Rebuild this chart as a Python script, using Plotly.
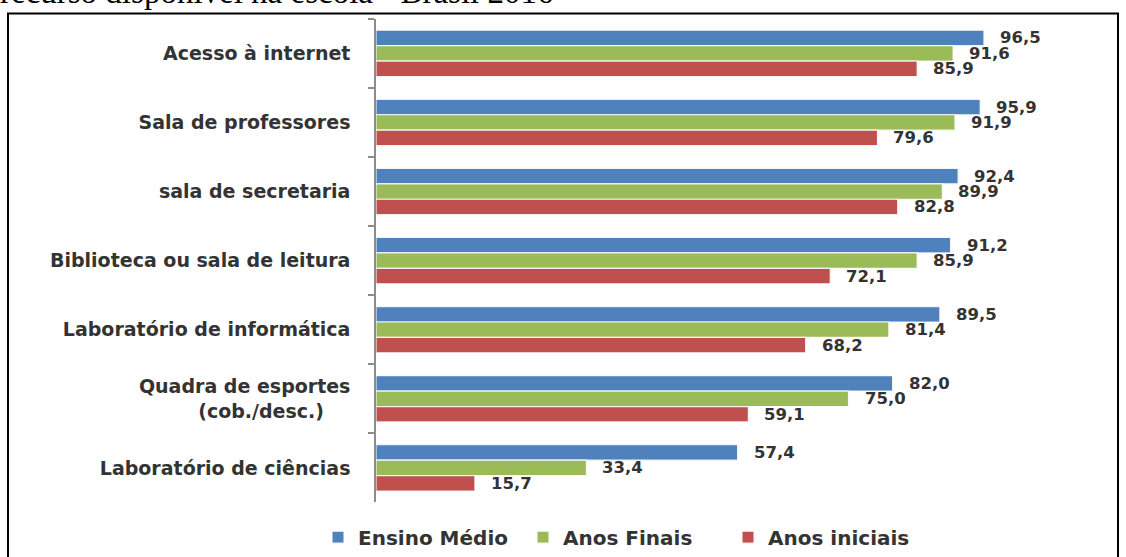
import plotly.graph_objects as go

categories = [
    "Acesso à internet",
    "Sala de professores",
    "sala de secretaria",
    "Biblioteca ou sala de leitura",
    "Laboratório de informática",
    "Quadra de esportes<br>(cob./desc.)\u00a0\u00a0\u00a0\u00a0",
    "Laboratório de ciências",
]
ensino_medio = [96.5, 95.9, 92.4, 91.2, 89.5, 82.0, 57.4]
anos_finais = [91.6, 91.9, 89.9, 85.9, 81.4, 75.0, 33.4]
anos_iniciais = [85.9, 79.6, 82.8, 72.1, 68.2, 59.1, 15.7]
series_names = ["Ensino Médio", "Anos Finais", "Anos iniciais"]
series_values = [ensino_medio, anos_finais, anos_iniciais]
colors = ["#4F81BD", "#9BBB59", "#C0504D"]
title_text = "recurso disponível na escola - Brasil 2016"

W, H = 1126, 557
FONT = "DejaVu Sans"
bargap = 0.33

fig = go.Figure()
for name, vals, col in zip(series_names, series_values, colors):
    fig.add_trace(go.Bar(
        y=categories, x=vals, name=name, orientation="h",
        marker=dict(color=col, line=dict(color="rgba(255,255,255,0.85)", width=1.2)),
    ))

# value labels
n = len(series_values)
w = (1 - bargap) / n
annotations = []
for k, vals in enumerate(series_values):
    off = (k - (n - 1) / 2) * w
    for i, v in enumerate(vals):
        annotations.append(dict(
            x=v, y=i + off, xref="x", yref="y",
            text=f"{v:.1f}".replace(".", ","),
            showarrow=False, xanchor="left", yanchor="middle", xshift=15,
            font=dict(family=FONT, size=16.5, color="#333333", weight="bold"),
            borderpad=0,
        ))

annotations.append(dict(
    x=-0.002, y=1 - 12.5 / H, xref="paper", yref="paper",
    text=title_text, showarrow=False, xanchor="left", yanchor="bottom",
    font=dict(family="Liberation Serif", size=33, color="#000000"),
))

fig.update_layout(
    width=W, height=H,
    margin=dict(l=0, r=0, t=0, b=0),
    paper_bgcolor="white", plot_bgcolor="white",
    barmode="group", bargap=bargap, bargroupgap=0,
    showlegend=True,
    legend=dict(
        orientation="h", x=318 / W, xanchor="left", y=1 - 542 / H, yanchor="middle",
        font=dict(family=FONT, size=20, color="#333333", weight="bold"),
        itemwidth=30, entrywidth=160, entrywidthmode="pixels",
        traceorder="normal", bgcolor="rgba(0,0,0,0)",
    ),
    xaxis=dict(
        domain=[376 / W, 1006 / W], range=[0, 100],
        showgrid=False, zeroline=False, showticklabels=False, showline=False, ticks="",
    ),
    yaxis=dict(
        domain=[1 - 507 / H, 1 - 19 / H], autorange="reversed",
        showgrid=False, zeroline=False, showline=True, linecolor="#8c8c8c", linewidth=1.5,
        ticks="outside", tickson="boundaries", ticklen=6, tickcolor="#8c8c8c", tickwidth=1.5,
        ticklabelstandoff=20,
        tickfont=dict(family=FONT, size=19, color="#333333", weight="bold"),
    ),
    annotations=annotations,
    shapes=[dict(
        type="rect", xref="paper", yref="paper",
        x0=8 / W, x1=1118 / W, y0=-0.05, y1=1 - 13.5 / H,
        line=dict(color="#000000", width=2), fillcolor="rgba(0,0,0,0)", layer="below",
    )],
)

fig.write_html("out.html")
